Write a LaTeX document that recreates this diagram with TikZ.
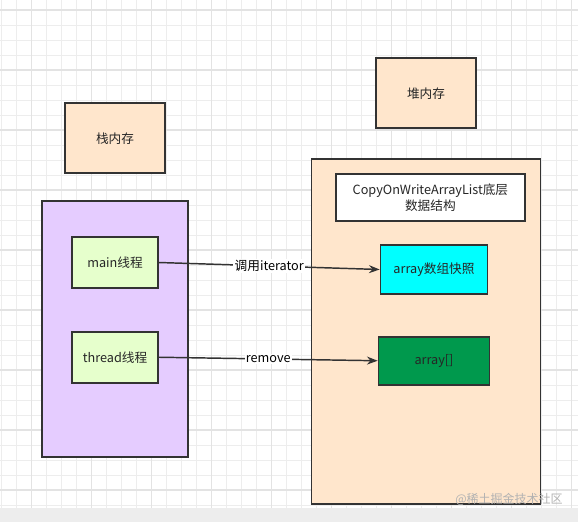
\documentclass[tikz,border=0pt]{standalone}
\usepackage{fontspec}
\setmainfont{Noto Sans CJK SC}
\usepackage{tikz}
\usetikzlibrary{positioning,arrows.meta}
\definecolor{peach}{HTML}{FFE6CC}
\definecolor{lilac}{HTML}{E5CCFF}
\definecolor{lime}{HTML}{E6FFCC}
\definecolor{aqua}{HTML}{00FFFF}
\definecolor{leaf}{HTML}{00994D}
\definecolor{edge}{HTML}{333333}
\tikzset{
  box/.style={draw=edge, line width=1.3pt, rectangle, inner sep=0pt, align=center},
  link/.style={-{Stealth[length=8pt,width=6pt]}, draw=edge, line width=1.1pt},
  tag/.style={fill=white, inner sep=1pt, text=black}
}

\begin{document}
\begin{tikzpicture}[x=0.75pt, y=-0.75pt, every node/.style={font=\fontsize{9.5pt}{11.5pt}\selectfont, text=black!85}]
        % Background grid
        \useasboundingbox (0,0) rectangle (578,522);
        \fill[white] (0,0) rectangle (578,508);
        \fill[black!7] (0,508) rectangle (578,522);
        \foreach \x in {1.7,16.7,...,578} \draw[black!7, line width=0.6pt] (\x,0) -- (\x,508);
        \foreach \y in {10,25,...,508} \draw[black!7, line width=0.6pt] (0,\y) -- (578,\y);
        \foreach \x in {31.7,91.7,...,578} \draw[black!11, line width=0.8pt] (\x,0) -- (\x,508);
        \foreach \y in {10,70,...,508} \draw[black!11, line width=0.8pt] (0,\y) -- (578,\y);

        % Stack side
        \node (stack) [box, fill=lilac, minimum width=109.5pt, minimum height=192pt] at (115,329) {};
        \node (stacklabel) [box, fill=peach, minimum width=75pt, minimum height=52.5pt, above=19.5pt of stack] {栈内存};
        \node (main) [box, fill=lime, minimum width=64.5pt, minimum height=38.25pt] at (115,262.5) {main线程};
        \node (thread) [box, fill=lime, minimum width=64.5pt, minimum height=38.25pt, below=31.5pt of main] {thread线程};

        % Heap side
        \node (heap) [box, fill=peach, minimum width=171.75pt, minimum height=258.75pt] at (426,331.5) {};
        \node (heaplabel) [box, fill=peach, minimum width=75pt, minimum height=52.5pt, above=21.75pt of heap] {堆内存};
        \node (cow) [box, fill=white, minimum width=141.75pt, minimum height=35.25pt] at (430.4,197.7) {CopyOnWriteArrayList底层\\数据结构};
        \node (snap) [box, fill=aqua, minimum width=80.25pt, minimum height=36.75pt] at (434,269.5) {array数组快照};
        \node (arr) [box, fill=leaf, minimum width=83.25pt, minimum height=36pt, below=30.75pt of snap] {array[]};

        % Arrows
        \draw [link] (main.east) -- node[tag] {调用iterator} (snap.west);
        \draw [link] (thread.east) -- node[tag] {remove} (arr.west);

        % Watermark
        \node (mark) [text=black!30, font=\fontsize{9pt}{10pt}\selectfont] at (509,499) {@稀土掘金技术社区};
\end{tikzpicture}
\end{document}
